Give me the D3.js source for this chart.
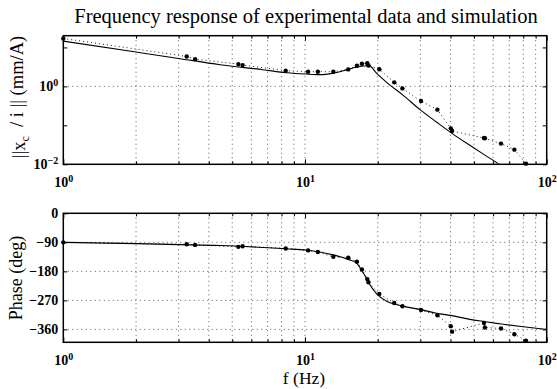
<!DOCTYPE html>
<html>
<head>
<meta charset="utf-8">
<script src="https://cdn.jsdelivr.net/npm/d3@7"></script>
<style>
body { margin: 0; background: #fff; }
svg text { font-family: "Liberation Serif", "Times New Roman", Times, serif; }
</style>
</head>
<body>
<script>
// experimental data (dots + dotted line)
var freqExp = [1, 3.24, 3.51, 5.30, 5.52, 8.32, 10.3, 11.3, 13.1, 15.1, 16.4, 17.2, 18.1, 18.3, 20.3, 23.4, 25.3, 30.2, 35.3, 40.1, 40.6, 55.0, 55.5, 64.7, 73.5, 82.1];
var magExp = [17.0, 5.87, 5.01, 3.73, 3.52, 2.53, 2.38, 2.38, 2.38, 2.73, 3.40, 3.82, 3.95, 3.45, 2.75, 1.27, 0.889, 0.42, 0.253, 0.0838, 0.0714, 0.0472, 0.0465, 0.034, 0.0238, 0.0104];
var phaseExp = [-90, -96, -98, -104, -102, -109, -115, -120, -135, -138, -150, -174, -204, -214, -250, -278, -288, -300, -316, -350, -367, -340, -354, -357, -375, -395];

// simulation (solid line)
var freqSim = [1, 2, 3, 4.45, 6.7, 8.4, 10.1, 11.5, 13.1, 15.1, 16.4, 17.1, 17.9, 18.3, 19.8, 21.7, 25.5, 29.9, 35, 41.1, 48.1, 55.5, 63.1, 66, 80, 100];
var magSim = [14.5, 7.62, 5.22, 3.60, 2.68, 2.24, 2.07, 2.0, 2.19, 2.73, 3.13, 3.28, 3.40, 3.52, 2.15, 1.29, 0.588, 0.253, 0.1215, 0.0588, 0.0307, 0.0172, 0.0104, 0.0087, 0.0041, 0.0017];
var phaseSim = [-90, -94, -97, -100, -106, -110, -114, -120, -129, -143, -155, -176, -200, -214, -250, -272, -288, -298, -310, -318, -329, -336, -342, -344, -352, -360];

var magTicks = [0.01, 0.1, 1, 10];
var magLabelled = [0.01, 1];
var phaseTicks = [-360, -270, -180, -90, 0];

var serif = '"Liberation Serif", "Times New Roman", Times, serif';

var left = 63.3, right = 546.7;
var magTop = 35.7, magBottom = 164.3;
var phTop = 213.3, phBottom = 342.3;

var svg = d3.select('body').append('svg')
    .attr('width', 557)
    .attr('height', 389)
    .attr('font-family', serif);

var x = d3.scaleLog().domain([1, 100]).range([left, right]);
var yMag = d3.scaleLog().domain([0.01, 20]).range([magBottom, magTop]);
var yPh = d3.scaleLinear().domain([-400, 0]).range([phBottom, phTop]);

var minorX = x.ticks().filter(function (v) { return v > 1 && v < 100; });

function supText(sel, withLabel) {
    sel.selectAll('.tick text').each(function (d) {
        var t = d3.select(this);
        t.text('');
        if (!withLabel(d)) return;
        var e = Math.round(Math.log10(d));
        t.append('tspan').text('10');
        t.append('tspan').attr('dy', '-0.55em').attr('font-size', '10px')
            .text(e < 0 ? '\u2212' + (-e) : '' + e);
    });
}

function styleAxis(g) {
    g.attr('font-family', serif)
        .attr('font-size', 14)
        .attr('font-weight', 'bold');
    g.select('.domain').remove();
    g.selectAll('.tick line').attr('stroke', '#000').attr('stroke-width', 1);
}

function panel(name, y, top, bottom, hGrid) {
    var g = svg.append('g').attr('class', name);

    // dotted grid
    g.selectAll('.vgrid').data(minorX).enter().append('line')
        .attr('x1', function (d) { return x(d); })
        .attr('x2', function (d) { return x(d); })
        .attr('y1', top).attr('y2', bottom)
        .attr('stroke', '#333').attr('stroke-width', 0.8)
        .attr('stroke-dasharray', '1,3.5');
    g.selectAll('.hgrid').data(hGrid).enter().append('line')
        .attr('x1', left).attr('x2', right)
        .attr('y1', function (d) { return y(d); })
        .attr('y2', function (d) { return y(d); })
        .attr('stroke', '#333').attr('stroke-width', 0.8)
        .attr('stroke-dasharray', '1,3.5');

    // x ticks: minor, then major with labels
    g.append('g').attr('transform', 'translate(0,' + bottom + ')')
        .call(d3.axisBottom(x).tickValues(minorX).tickSizeInner(-3).tickSizeOuter(0).tickFormat(''))
        .call(styleAxis);
    g.append('g').attr('transform', 'translate(0,' + top + ')')
        .call(d3.axisTop(x).tickValues(minorX).tickSizeInner(-3).tickSizeOuter(0).tickFormat(''))
        .call(styleAxis);
    var xb = g.append('g').attr('transform', 'translate(0,' + bottom + ')')
        .call(d3.axisBottom(x).tickValues([1, 10, 100]).tickSizeInner(-5).tickSizeOuter(0).tickPadding(13))
        .call(styleAxis);
    supText(xb, function () { return true; });
    g.append('g').attr('transform', 'translate(0,' + top + ')')
        .call(d3.axisTop(x).tickValues([1, 10, 100]).tickSizeInner(-5).tickSizeOuter(0).tickFormat(''))
        .call(styleAxis);

    g.append('clipPath').attr('id', 'clip-' + name)
        .append('rect').attr('x', left - 3).attr('y', top - 3)
        .attr('width', right - left + 6).attr('height', bottom - top + 6);

    return g;
}

// ---------- magnitude panel ----------
var gm = panel('mag', yMag, magTop, magBottom, [1]);

var ym = gm.append('g').attr('transform', 'translate(' + left + ',0)')
    .call(d3.axisLeft(yMag).tickValues(magTicks).tickSizeInner(-4).tickSizeOuter(0).tickPadding(5))
    .call(styleAxis);
supText(ym, function (d) { return magLabelled.indexOf(d) >= 0; });
gm.append('g').attr('transform', 'translate(' + right + ',0)')
    .call(d3.axisRight(yMag).tickValues(magTicks).tickSizeInner(-4).tickSizeOuter(0).tickFormat(''))
    .call(styleAxis);

var magLine = d3.line()
    .x(function (d) { return x(d[0]); })
    .y(function (d) { return yMag(d[1]); });

var plotM = gm.append('g').attr('clip-path', 'url(#clip-mag)');
plotM.append('path')
    .datum(d3.zip(freqExp, magExp))
    .attr('d', magLine)
    .attr('fill', 'none').attr('stroke', '#000').attr('stroke-width', 0.9)
    .attr('stroke-dasharray', '1,3');
plotM.append('path')
    .datum(d3.zip(freqSim, magSim).filter(function (d) { return d[1] >= 0.0095; }))
    .attr('d', magLine.curve(d3.curveMonotoneX))
    .attr('fill', 'none').attr('stroke', '#000').attr('stroke-width', 1.1);
plotM.selectAll('circle')
    .data(d3.zip(freqExp, magExp))
    .enter().append('circle')
    .attr('cx', function (d) { return x(d[0]); })
    .attr('cy', function (d) { return yMag(d[1]); })
    .attr('r', 2.2).attr('fill', '#000');

gm.append('rect').attr('x', left).attr('y', magTop)
    .attr('width', right - left).attr('height', magBottom - magTop)
    .attr('fill', 'none').attr('stroke', '#000').attr('stroke-width', 1.5);

// ---------- phase panel ----------
var gp = panel('ph', yPh, phTop, phBottom, [-90, -180, -270, -360]);

gp.append('g').attr('transform', 'translate(' + left + ',0)')
    .call(d3.axisLeft(yPh).tickValues(phaseTicks).tickSizeInner(-4).tickSizeOuter(0).tickPadding(5).tickFormat(d3.format('d')))
    .call(styleAxis);
gp.append('g').attr('transform', 'translate(' + right + ',0)')
    .call(d3.axisRight(yPh).tickValues(phaseTicks).tickSizeInner(-4).tickSizeOuter(0).tickFormat(''))
    .call(styleAxis);

var phLine = d3.line()
    .x(function (d) { return x(d[0]); })
    .y(function (d) { return yPh(d[1]); });

var plotP = gp.append('g').attr('clip-path', 'url(#clip-ph)');
plotP.append('path')
    .datum(d3.zip(freqExp, phaseExp))
    .attr('d', phLine)
    .attr('fill', 'none').attr('stroke', '#000').attr('stroke-width', 0.9)
    .attr('stroke-dasharray', '1,3');
plotP.append('path')
    .datum(d3.zip(freqSim, phaseSim))
    .attr('d', phLine.curve(d3.curveMonotoneX))
    .attr('fill', 'none').attr('stroke', '#000').attr('stroke-width', 1.1);
plotP.selectAll('circle')
    .data(d3.zip(freqExp, phaseExp))
    .enter().append('circle')
    .attr('cx', function (d) { return x(d[0]); })
    .attr('cy', function (d) { return yPh(d[1]); })
    .attr('r', 2.2).attr('fill', '#000');

gp.append('rect').attr('x', left).attr('y', phTop)
    .attr('width', right - left).attr('height', phBottom - phTop)
    .attr('fill', 'none').attr('stroke', '#000').attr('stroke-width', 1.5);

// ---------- titles and labels ----------
svg.append('text')
    .attr('x', 306).attr('y', 23)
    .attr('text-anchor', 'middle').attr('font-size', 20.5)
    .text('Frequency response of experimental data and simulation');

svg.append('text')
    .attr('x', 304).attr('y', 384)
    .attr('text-anchor', 'middle').attr('font-size', 17.5)
    .text('f (Hz)');

var yl = svg.append('text')
    .attr('transform', 'translate(25,97) rotate(-90)')
    .attr('text-anchor', 'middle').attr('font-size', 18.5);
yl.append('tspan').text('||x');
yl.append('tspan').attr('dy', '0.35em').attr('font-size', 12).text('c');
yl.append('tspan').attr('dy', '-0.35em').text('\u00a0\u00a0/ i || (mm/A)');

svg.append('text')
    .attr('transform', 'translate(22,278) rotate(-90)')
    .attr('text-anchor', 'middle').attr('font-size', 18)
    .text('Phase (deg)');
</script>
</body>
</html>
